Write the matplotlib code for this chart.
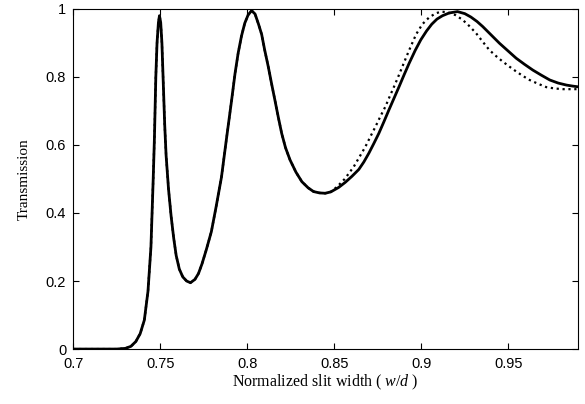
import numpy as np
import matplotlib.pyplot as plt

plt.rcParams['mathtext.fontset'] = 'custom'
plt.rcParams['mathtext.rm'] = 'Liberation Serif'
plt.rcParams['mathtext.it'] = 'Liberation Serif:italic'

# shared part of both curves
x_common = [0.700, 0.715, 0.725, 0.730, 0.7332, 0.7360, 0.7385, 0.7409, 0.7430,
            0.7447, 0.7460, 0.7467, 0.7475, 0.7482, 0.7490, 0.7496, 0.7503, 0.7510,
            0.7518, 0.7526, 0.7534, 0.7548, 0.7563, 0.7578, 0.7592, 0.7610, 0.7630,
            0.7652, 0.7674, 0.7700, 0.7720, 0.7740, 0.7765, 0.7794, 0.7822, 0.7852,
            0.7880, 0.7910, 0.7930, 0.7948, 0.7967, 0.7986, 0.8005, 0.8025, 0.8045,
            0.8065, 0.8083, 0.8100, 0.8121, 0.8140, 0.8159, 0.8178, 0.8198, 0.8220,
            0.8246, 0.8280, 0.8314, 0.8350, 0.8381, 0.8415, 0.8448, 0.8480]
t_common = [0.000, 0.000, 0.000, 0.002, 0.008, 0.022, 0.045, 0.085, 0.170,
            0.300, 0.500, 0.620, 0.800, 0.900, 0.960, 0.980, 0.960, 0.900,
            0.780, 0.660, 0.570, 0.470, 0.390, 0.325, 0.275, 0.235, 0.212,
            0.200, 0.195, 0.205, 0.222, 0.250, 0.292, 0.345, 0.420, 0.505,
            0.615, 0.730, 0.810, 0.870, 0.920, 0.958, 0.982, 0.995, 0.985,
            0.955, 0.925, 0.880, 0.830, 0.780, 0.732, 0.683, 0.634, 0.592,
            0.556, 0.520, 0.492, 0.474, 0.463, 0.459, 0.458, 0.462]

# solid curve tail
x_solid = [0.8525, 0.8563, 0.8602, 0.8641, 0.8670, 0.8699, 0.8727, 0.8756, 0.8785,
           0.8814, 0.8843, 0.8872, 0.8901, 0.8930, 0.8965, 0.8997, 0.9030, 0.9060,
           0.9090, 0.9122, 0.9160, 0.9208, 0.9250, 0.9285, 0.9320, 0.9353, 0.9400,
           0.9449, 0.9497, 0.9545, 0.9593, 0.9641, 0.9690, 0.9738, 0.9786, 0.9834,
           0.9870, 0.9900]
t_solid = [0.475, 0.490, 0.508, 0.528, 0.550, 0.576, 0.604, 0.634, 0.668,
           0.703, 0.737, 0.771, 0.806, 0.840, 0.878, 0.909, 0.935, 0.955,
           0.970, 0.980, 0.988, 0.992, 0.986, 0.976, 0.963, 0.948, 0.924,
           0.899, 0.877, 0.855, 0.837, 0.820, 0.805, 0.791, 0.782, 0.776,
           0.773, 0.771]

# dotted curve tail
x_dot = [0.8516, 0.8560, 0.8612, 0.8645, 0.8679, 0.8708, 0.8737, 0.8765, 0.8794,
         0.8818, 0.8843, 0.8867, 0.8891, 0.8915, 0.8939, 0.8970, 0.9006, 0.9045,
         0.9083, 0.9115, 0.9150, 0.9195, 0.9237, 0.9275, 0.9314, 0.9352, 0.9391,
         0.9430, 0.9468, 0.9507, 0.9545, 0.9583, 0.9622, 0.9670, 0.9718, 0.9766,
         0.9815, 0.9860, 0.9900]
t_dot = [0.477, 0.500, 0.536, 0.565, 0.595, 0.625, 0.654, 0.684, 0.713,
         0.742, 0.771, 0.800, 0.830, 0.860, 0.889, 0.925, 0.955, 0.975,
         0.987, 0.992, 0.990, 0.982, 0.968, 0.950, 0.929, 0.904, 0.879,
         0.861, 0.845, 0.830, 0.816, 0.803, 0.791, 0.780, 0.770, 0.766,
         0.764, 0.764, 0.764]

fig = plt.figure(figsize=(5.85, 4.04), dpi=100)
ax = fig.add_axes([0.125, 0.136, 0.863, 0.842])

ax.plot(x_common + x_solid, t_common + t_solid, color='black', lw=2.0)
ax.plot(x_common + x_dot, t_common + t_dot, color='black', lw=1.6, ls=':')

ax.set_xlim(0.7, 0.99)
ax.set_ylim(0, 1)
ax.set_xticks([0.7, 0.75, 0.8, 0.85, 0.9, 0.95])
ax.set_xticklabels(['0.7', '0.75', '0.8', '0.85', '0.9', '0.95'])
ax.set_yticks([0, 0.2, 0.4, 0.6, 0.8, 1])
ax.set_yticklabels(['0', '0.2', '0.4', '0.6', '0.8', '1'])
ax.tick_params(direction='in', top=True, right=True, length=4, labelsize=10.5)
ax.tick_params(axis='x', pad=6)
ax.tick_params(axis='y', pad=5)
for lab in ax.get_xticklabels() + ax.get_yticklabels():
    lab.set_family('Liberation Sans')

ax.set_xlabel(r'Normalized slit width ( $\it{w/d}$ )', family='Liberation Serif',
              fontsize=11.5, labelpad=1)
ax.set_ylabel('Transmission', family='Liberation Serif', fontsize=11, labelpad=11)

fig.savefig('out.png', dpi=100)
